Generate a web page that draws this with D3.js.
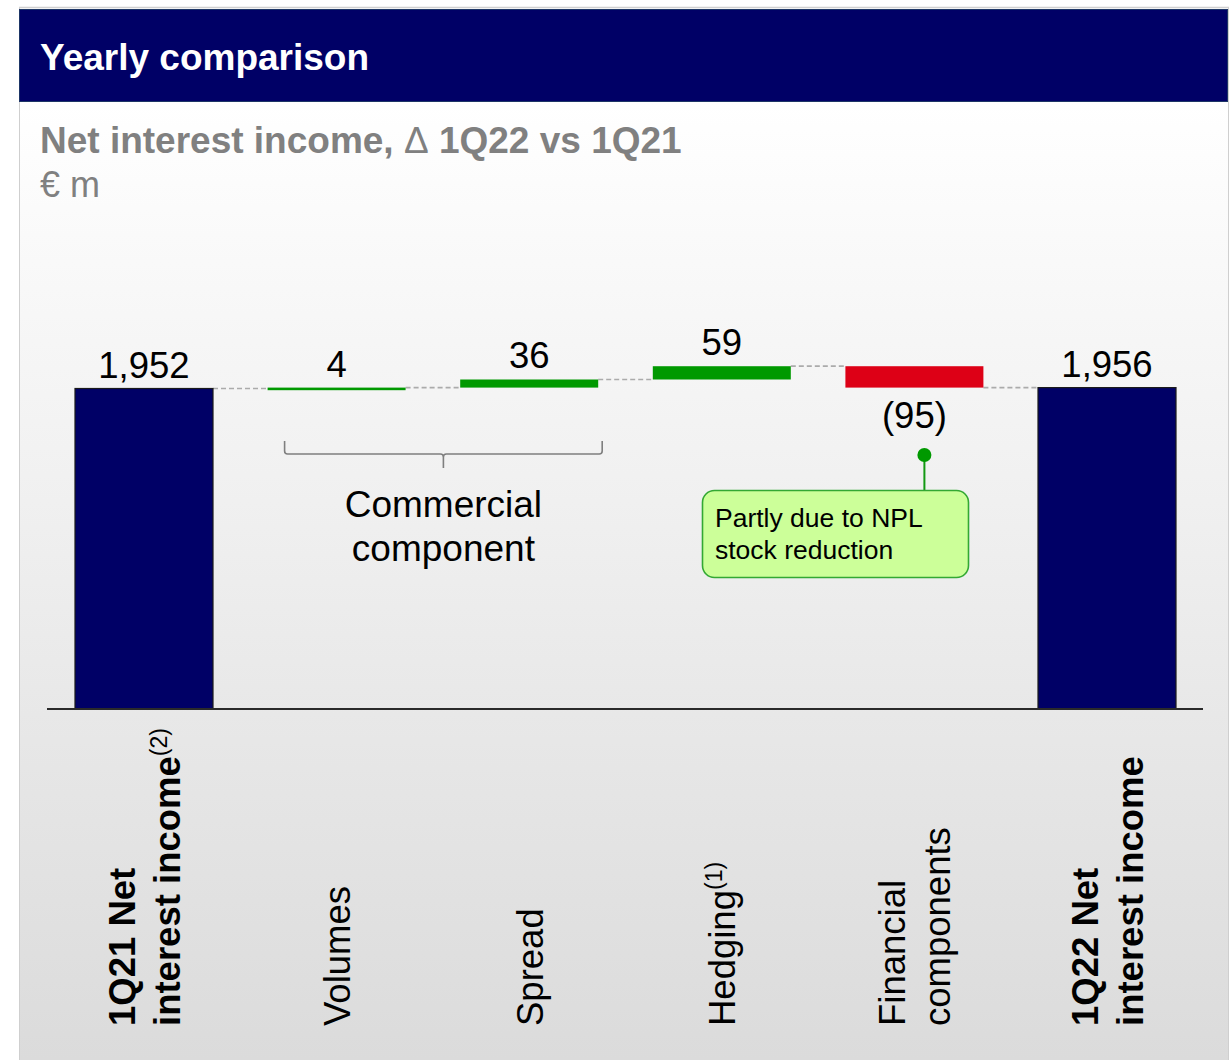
<!DOCTYPE html>
<html>
<head>
<meta charset="utf-8">
<script src="https://cdn.jsdelivr.net/npm/d3@7"></script>
<style>
  html, body { margin: 0; padding: 0; background: #ffffff; }
  svg { display: block; }
  text { font-family: "Liberation Sans", Arial, Helvetica, sans-serif; }
</style>
</head>
<body>
<svg id="chart" width="1230" height="1060"></svg>
<script>
// ---- data ----
const categories = ["1Q21", "Volumes", "Spread", "Hedging", "Financial", "1Q22"];
const tickLines = [
  ["1Q21 Net", "interest income"],
  ["Volumes"],
  ["Spread"],
  ["Hedging"],
  ["Financial", "components"],
  ["1Q22 Net", "interest income"]
];
const tickSup = ["(2)", "", "", "(1)", "", ""];
const tickBold = [true, false, false, false, false, true];
const values = [1952, 4, 36, 59, -95, 1956];
const kinds = ["total", "delta", "delta", "delta", "delta", "total"];
const valueLabels = ["1,952", "4", "36", "59", "(95)", "1,956"];
const titleText = "Yearly comparison";
const subtitleText = "Net interest income, ";
const unitText = "€ m";
const groupLabel = ["Commercial", "component"];
const calloutLines = ["Partly due to NPL", "stock reduction"];

// ---- layout ----
const W = 1230, H = 1060;
const svg = d3.select("#chart");
const defs = svg.append("defs");
const grad = defs.append("linearGradient").attr("id", "bg").attr("x1", 0).attr("y1", 0).attr("x2", 0).attr("y2", 1);
grad.append("stop").attr("offset", "0%").attr("stop-color", "#ffffff");
grad.append("stop").attr("offset", "100%").attr("stop-color", "#dbdbdb");

// panel
svg.append("rect").attr("x", 19).attr("y", 102).attr("width", 1209).attr("height", H - 102).attr("fill", "url(#bg)");
svg.append("line").attr("x1", 19.5).attr("x2", 19.5).attr("y1", 8).attr("y2", H).attr("stroke", "#cfcfcf").attr("stroke-width", 1);
svg.append("line").attr("x1", 1228.5).attr("x2", 1228.5).attr("y1", 8).attr("y2", H).attr("stroke", "#cfcfcf").attr("stroke-width", 1);
svg.append("line").attr("x1", 19).attr("x2", 1229).attr("y1", 7.5).attr("y2", 7.5).attr("stroke", "#d0d0d0").attr("stroke-width", 1.5);
svg.append("rect").attr("x", 19.5).attr("y", 9.5).attr("width", 1208).attr("height", 92)
  .attr("fill", "#000066").attr("stroke", "#1d3566").attr("stroke-width", 1);

svg.append("text").attr("x", 40).attr("y", 70).attr("fill", "#ffffff")
  .attr("font-size", 37).attr("font-weight", "bold").text(titleText);
const sub = svg.append("text").attr("x", 40).attr("y", 153).attr("fill", "#808080")
  .attr("font-size", 37).attr("font-weight", "bold");
sub.append("tspan").text(subtitleText);
sub.append("tspan").attr("font-weight", "normal").text("Δ");
sub.append("tspan").text(" 1Q22 vs 1Q21");
svg.append("text").attr("x", 40).attr("y", 197).attr("fill", "#808080")
  .attr("font-size", 36).text(unitText);

// ---- scales ----
const baseY = 709;
const x = d3.scaleBand().domain(categories).range([75, 1176]).paddingInner(0.2835).paddingOuter(0);
const y = d3.scaleLinear().domain([528, 1952]).range([baseY, 388.5]);
const bw = x.bandwidth();

// compute waterfall
let run = 0;
const bars = categories.map((c, i) => {
  let start, end;
  if (kinds[i] === "total") { start = 528; end = values[i]; run = values[i]; }
  else { start = run; end = run + values[i]; run = end; }
  return { c, i, start, end, v: values[i], kind: kinds[i] };
});

const g = svg.append("g");

// connectors
for (let i = 0; i < bars.length - 1; i++) {
  const lvl = bars[i].end;
  g.append("line")
    .attr("x1", x(bars[i].c) + bw).attr("x2", x(bars[i + 1].c))
    .attr("y1", y(lvl)).attr("y2", y(lvl))
    .attr("stroke", "#ababab").attr("stroke-width", 1.7).attr("stroke-dasharray", "5,3");
}

// bars
bars.forEach(b => {
  const top = y(Math.max(b.start, b.end));
  const bot = y(Math.min(b.start, b.end));
  const h = Math.max(2.6, bot - top);
  const fill = b.kind === "total" ? "#000066" : (b.v >= 0 ? "#009900" : "#dd0016");
  const r = g.append("rect").attr("x", x(b.c)).attr("y", top).attr("width", bw).attr("height", h).attr("fill", fill);
  if (b.kind === "total") r.attr("stroke", "#1a1a1a").attr("stroke-width", 1.2);
});

// value labels
bars.forEach((b, i) => {
  const cx = x(b.c) + bw / 2;
  const top = y(Math.max(b.start, b.end));
  const bot = y(Math.min(b.start, b.end));
  const ly = b.v < 0 && b.kind === "delta" ? bot + 40 : top - 11;
  g.append("text").attr("x", cx).attr("y", ly).attr("text-anchor", "middle")
    .attr("font-size", 36.5).attr("fill", "#000").text(valueLabels[i]);
});

// axis
const axis = d3.axisBottom(x).tickSize(0).tickFormat("").tickSizeOuter(0);
const ax = svg.append("g").attr("transform", `translate(0,${baseY})`).call(axis);
ax.select(".domain").remove();
svg.append("line").attr("x1", 47).attr("x2", 1203).attr("y1", baseY).attr("y2", baseY)
  .attr("stroke", "#2a2a2a").attr("stroke-width", 2);

// category labels (rotated)
categories.forEach((c, i) => {
  const cx = x(c) + bw / 2;
  const lines = tickLines[i];
  const n = lines.length;
  const t = svg.append("text")
    .attr("transform", `translate(${cx},1026) rotate(-90)`)
    .attr("font-size", 36.5).attr("fill", "#000")
    .attr("font-weight", tickBold[i] ? "bold" : "normal");
  lines.forEach((ln, j) => {
    t.append("tspan").attr("x", 0).attr("y", 13.5 - (n - 1) * 22.5 + j * 45).text(ln);
    if (j === n - 1 && tickSup[i]) {
      t.append("tspan").attr("font-size", 23).attr("font-weight", "normal").attr("dy", -13).text(tickSup[i]);
    }
  });
});

// bracket for commercial component
const bx0 = x("Volumes") + 17, bx1 = x("Spread") + bw + 4, bmid = (bx0 + bx1) / 2;
svg.append("path")
  .attr("d", `M${bx0},441 L${bx0},451 Q${bx0},454 ${bx0 + 3},454 L${bmid - 3},454 Q${bmid},454 ${bmid},457 L${bmid},468 M${bmid},457 Q${bmid},454 ${bmid + 3},454 L${bx1 - 3},454 Q${bx1},454 ${bx1},451 L${bx1},441`)
  .attr("fill", "none").attr("stroke", "#7f7f7f").attr("stroke-width", 1.6);
const gl = svg.append("text").attr("text-anchor", "middle").attr("font-size", 37).attr("fill", "#000");
groupLabel.forEach((ln, j) => gl.append("tspan").attr("x", bmid).attr("y", 517 + j * 44).text(ln));

// callout
const dotX = x("Financial") + bw / 2 + 10;
svg.append("line").attr("x1", dotX).attr("x2", dotX).attr("y1", 455).attr("y2", 490)
  .attr("stroke", "#139913").attr("stroke-width", 2);
svg.append("circle").attr("cx", dotX).attr("cy", 455).attr("r", 7).attr("fill", "#009900");
svg.append("rect").attr("x", 702.5).attr("y", 490.5).attr("width", 266).attr("height", 87).attr("rx", 12)
  .attr("fill", "#ccff99").attr("stroke", "#33a833").attr("stroke-width", 1.6);
const ct = svg.append("text").attr("font-size", 26.5).attr("fill", "#000");
calloutLines.forEach((ln, j) => ct.append("tspan").attr("x", 715).attr("y", 527 + j * 32).text(ln));
</script>
</body>
</html>
